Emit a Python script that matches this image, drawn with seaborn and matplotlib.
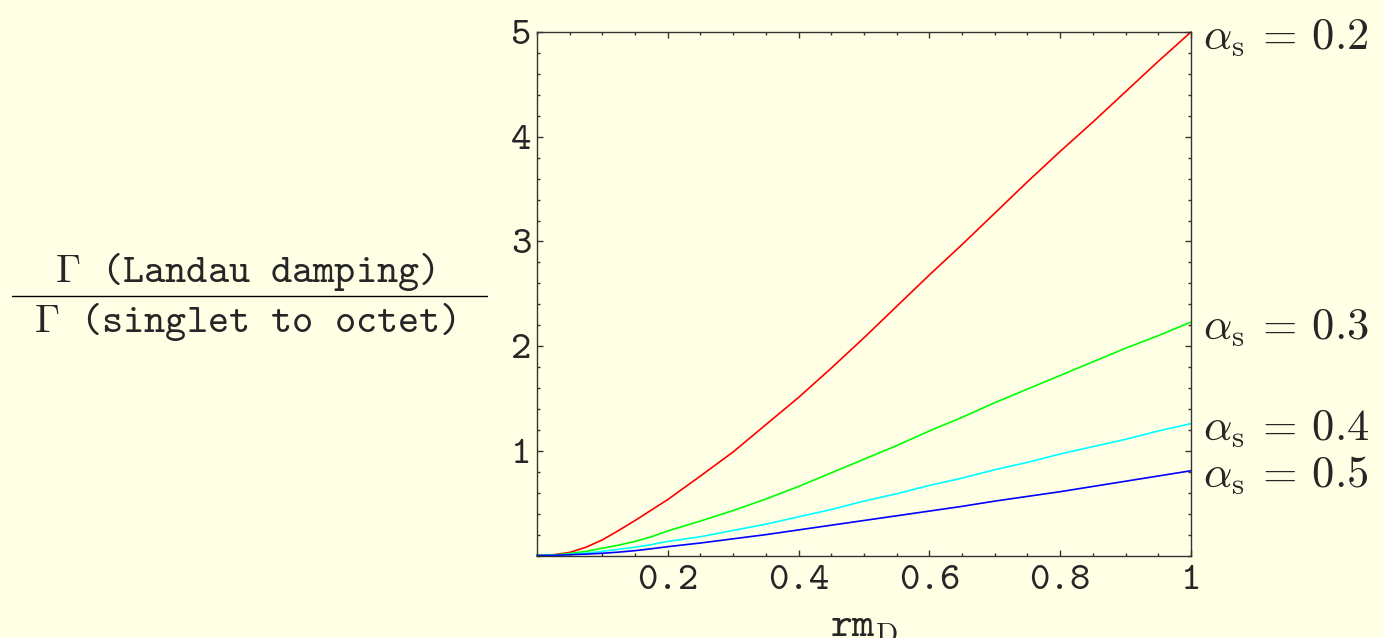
import numpy as np
import pandas as pd
import seaborn as sns
import matplotlib.pyplot as plt
from matplotlib.lines import Line2D
from matplotlib.ticker import MultipleLocator

# data (x = r m_D)
r_mD = [0.0, 0.025, 0.05, 0.075, 0.1, 0.125, 0.15, 0.175, 0.2, 0.25, 0.3,
        0.35, 0.4, 0.45, 0.5, 0.55, 0.6, 0.65, 0.7, 0.75, 0.8, 0.85, 0.9,
        0.95, 1.0]
ratio_02 = [0.0, 0.008, 0.03, 0.08, 0.15, 0.24, 0.335, 0.435, 0.535, 0.76, 0.99,
            1.25, 1.51, 1.79, 2.08, 2.38, 2.68, 2.97, 3.27, 3.57, 3.86, 4.14,
            4.43, 4.72, 5.0]
ratio_03 = [0.0, 0.005, 0.02, 0.04, 0.07, 0.10, 0.135, 0.18, 0.235, 0.33, 0.43,
            0.54, 0.66, 0.79, 0.92, 1.05, 1.19, 1.32, 1.46, 1.59, 1.72, 1.85,
            1.98, 2.10, 2.23]
ratio_04 = [0.0, 0.003, 0.012, 0.023, 0.04, 0.06, 0.08, 0.105, 0.135, 0.18, 0.24,
            0.30, 0.37, 0.44, 0.52, 0.59, 0.67, 0.74, 0.82, 0.89, 0.97, 1.04,
            1.11, 1.19, 1.26]
ratio_05 = [0.0, 0.002, 0.008, 0.014, 0.022, 0.033, 0.047, 0.065, 0.085, 0.12, 0.16,
            0.20, 0.245, 0.29, 0.335, 0.38, 0.425, 0.47, 0.52, 0.565, 0.61, 0.66,
            0.71, 0.76, 0.81]
alphas = ["0.2", "0.3", "0.4", "0.5"]
colors = ["#ff0000", "#00ff00", "#00ffff", "#0000ff"]

x_ticks = [0.2, 0.4, 0.6, 0.8, 1.0]
x_labels = ["0.2", "0.4", "0.6", "0.8", "1"]
y_ticks = [1, 2, 3, 4, 5]

df = pd.DataFrame({
    "x": r_mD * 4,
    "y": ratio_02 + ratio_03 + ratio_04 + ratio_05,
    "alpha": sum([[a] * len(r_mD) for a in alphas], []),
})

sns.set_style("ticks")
bg = "#ffffe6"
plt.rcParams["font.family"] = ["cmtt10", "DejaVu Serif"]
plt.rcParams["mathtext.fontset"] = "cm"
plt.rcParams["axes.unicode_minus"] = False

fig = plt.figure(figsize=(13.84, 6.38), dpi=100, facecolor=bg)
ax = fig.add_axes([0.388, 0.1292, 0.4725, 0.8206])
ax.set_facecolor(bg)

sns.lineplot(data=df, x="x", y="y", hue="alpha", palette=colors,
             linewidth=1.2, legend=False, ax=ax, clip_on=False)

ax.set_xlim(0, 1)
ax.set_ylim(0, 5)
ax.set_xticks(x_ticks, x_labels)
ax.set_yticks(y_ticks)
ax.xaxis.set_minor_locator(MultipleLocator(0.05))
ax.yaxis.set_minor_locator(MultipleLocator(0.2))
ax.tick_params(which="both", direction="in", top=True, right=True,
               color="#333333", width=1.0, labelsize=28)
ax.tick_params(which="major", length=4)
ax.tick_params(which="minor", length=2.5)
ax.tick_params(axis="x", pad=7)
ax.tick_params(axis="y", pad=4)
for s in ax.spines.values():
    s.set_color("#333333")
    s.set_linewidth(1.0)

ax.set_xlabel("")
ax.set_ylabel("")
ax.text(0.5, -0.108, r"$\mathtt{rm}_{\mathrm{D}}$", transform=ax.transAxes,
        ha="center", va="top", fontsize=30)

# curve labels at the right end
ends = [ratio_02[-1], ratio_03[-1], ratio_04[-1], ratio_05[-1]]
for a, yv in zip(alphas, ends):
    ax.annotate(r"$\alpha_{\rm s}\:=\,%s$" % a, xy=(1.0, yv),
                xytext=(9, 0), textcoords="offset points",
                ha="left", va="center_baseline", fontsize=32,
                annotation_clip=False)

# fraction y-label
fig.text(245 / 1384, 1 - 272 / 638, r"$\Gamma$ (Landau damping)", ha="center",
         va="center", fontsize=29)
fig.text(245 / 1384, 1 - 322 / 638, r"$\Gamma$ (singlet to octet)", ha="center",
         va="center", fontsize=29)
fig.add_artist(Line2D([12 / 1384, 487 / 1384], [1 - 296 / 638, 1 - 296 / 638],
                      color="black", linewidth=1.0))

fig.savefig("out.png", dpi=100, facecolor=bg)
